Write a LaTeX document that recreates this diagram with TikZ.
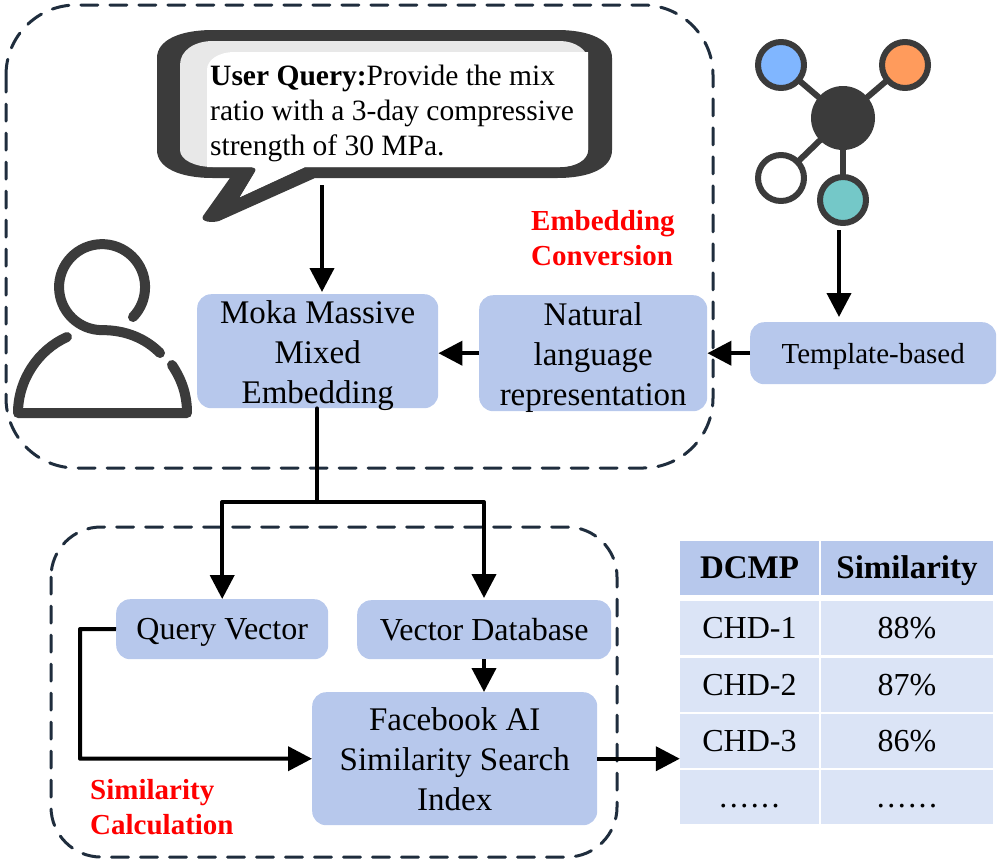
\documentclass[tikz,border=0pt]{standalone}
\usepackage{fontspec}
\setmainfont{Liberation Serif}
\usetikzlibrary{arrows.meta}
\definecolor{boxblue}{HTML}{B7C8EC}
\definecolor{rowblue}{HTML}{DBE4F6}
\definecolor{darkgrey}{HTML}{3B3B3B}
\definecolor{dashnavy}{HTML}{1F2D3D}
\newcommand{\sixdots}{.\kern2.5pt.\kern2.5pt.\kern2.5pt.\kern2.5pt.\kern2.5pt.}
\newcommand{\toppad}{\rule{0pt}{24pt}}
\tikzset{
	blockbox/.style={fill=boxblue, rounded corners=14pt, align=center, inner sep=0pt, font=\fontsize{#1}{40}\selectfont, anchor=north west},
	blockbox/.default=33,
	linebox/.style={blockbox=#1, text height=27pt, text depth=6pt},
	groupbox/.style={draw=dashnavy, line width=3pt, dash pattern=on 17pt off 12pt},
	flow/.style={-{Triangle[length=24pt,width=24pt]}, line width=4pt, black, line cap=butt},
	flowline/.style={line width=4pt, black},
	atom/.style={circle, draw=darkgrey, line width=6pt, minimum size=46pt, inner sep=0pt},
	rowcell/.style={fill=rowblue, minimum height=54pt, inner sep=0pt, text height=26pt, text depth=6pt, font=\fontsize{32}{34}\selectfont},
	headcell/.style={fill=boxblue, minimum height=54pt, inner sep=0pt, text height=26pt, text depth=6pt, font=\fontsize{33}{34}\selectfont\bfseries},
	redtag/.style={text=red, align=left, anchor=west, inner sep=0pt, font=\fontsize{29}{35}\selectfont\bfseries}
}
\begin{document}
\begin{tikzpicture}[x=1pt, y=-1pt, line join=round, line cap=round]
	\useasboundingbox (0,0) rectangle (1000,863);
	% dashed groups
	\draw[groupbox, rounded corners=70pt] (6,5) rectangle (713,468);
	\draw[groupbox, rounded corners=50pt] (51,527) rectangle (617,857);
	% speech bubble
	\fill[darkgrey] (157,58) .. controls (157,40) and (180,30) .. (213,30) -- (557,30) .. controls (590,30) and (612,40) .. (612,58) -- (612,150) .. controls (612,168) and (590,178) .. (557,178) -- (315,178) -- (219,221) .. controls (212,223) and (200,222) .. (203,216) -- (230,178) -- (213,178) .. controls (180,178) and (157,168) .. (157,150) -- cycle;
	\fill[black!9] (180,65) .. controls (180,50) and (195,41) .. (213,41) -- (560,41) .. controls (575,41) and (588,50) .. (588,60) -- (588,150) .. controls (588,160) and (575,167) .. (560,167) -- (305,167) -- (240,197) -- (255,172) .. controls (257,169) and (255,167) .. (250,167) -- (213,167) .. controls (195,167) and (180,160) .. (180,150) -- cycle;
	\fill[white] (207,70) .. controls (207,60) and (218,52) .. (235,52) -- (588,52) -- (588,150) .. controls (588,160) and (575,167) .. (560,167) -- (305,167) -- (240,197) -- (255,172) .. controls (257,169) and (255,167) .. (250,167) -- (207,167) -- cycle;
	\node[anchor=north west, align=left, inner sep=0pt, font=\fontsize{29.5}{35}\selectfont] (query) at (210,65) {\textbf{User Query:}Provide the mix\\ratio with a 3-day compressive\\strength of 30 MPa.};
	% person
	\draw[darkgrey, line width=10pt] (133,317) arc[start angle=44, end angle=-270, radius=43] .. controls (125,330) and (145,338) .. (160,353);
	\draw[darkgrey, line width=10pt] (67,337) .. controls (38,350) and (18,380) .. (18,413) -- (187,413) .. controls (187,395) and (182,380) .. (172,365);
	% molecule
	\node[circle, fill=darkgrey, minimum size=64pt, inner sep=0pt] (hub) at (843,118) {};
	\foreach \a/\px/\py/\c in {white/781/178/white,teal/843/200/{rgb,255:red,116;green,200;blue,200},sky/781/65/{rgb,255:red,128;green,182;blue,255},orange/905/65/{rgb,255:red,255;green,155;blue,92}}{
		\draw[darkgrey, line width=6pt] (hub.center) -- (\px,\py);
		\node[atom, fill={\c}] (\a) at (\px,\py) {};
	}
	% blocks
	\node[blockbox, minimum width=241pt, minimum height=114pt] (moka) at (197,294) {\toppad Moka Massive\\Mixed\\\smash{Embedding}};
	\node[blockbox, minimum width=228pt, minimum height=116pt] (natural) at (479,295) {\toppad Natural\\language\\\smash{representation}};
	\node[linebox=29, minimum width=246pt, minimum height=62pt] (template) at (750,322) {Template-based};
	\node[linebox=32, minimum width=212pt, minimum height=60pt] (qvec) at (116,599) {Query Vector};
	\node[linebox=32, minimum width=254pt, minimum height=59pt] (vecdb) at (357,600) {Vector Database};
	\node[blockbox, minimum width=285pt, minimum height=133pt] (faiss) at (312,692) {Facebook AI\\Similarity Search\\Index};
	% red labels
	\node[redtag] (embed) at (531,238) {Embedding\\Conversion};
	\node[redtag] (simil) at (90,807) {Similarity\\Calculation};
	% table
	\node[headcell, minimum width=139pt] (h1) at (749.5,568) {DCMP};
	\node[headcell, minimum width=172pt] (h2) at (907,568) {Similarity};
	\foreach \y/\n/\a/\b in {628/1/CHD-1/88\%, 685/2/CHD-2/87\%, 741/3/CHD-3/86\%, 797/4/\sixdots/\sixdots}{
		\node[rowcell, minimum width=139pt] (c\n) at (749.5,\y) {\a};
		\node[rowcell, minimum width=172pt] (d\n) at (907,\y) {\b};
	}
	% connectors
	\coordinate (qtop) at (322,185);
	\coordinate (split) at (317,502);
	\coordinate (molend) at (839,230);
	\coordinate (dbtip) at (484,598);
	\draw[flow] (qtop) -- (322,292);
	\draw[flow] (molend) -- (839,317);
	\draw[flow] (template.west) -- (natural.east |- template.west);
	\draw[flow] (natural.west) -- (moka.east |- natural.west);
	\draw[flowline] (moka.south -| split) -- (split);
	\draw[flow] (split) -| (qvec.north);
	\draw[flow] (split) -| (dbtip);
	\draw[flow] (vecdb.south -| dbtip) -- (faiss.north -| dbtip);
	\draw[flow] (qvec.west) -- (80,629) |- (faiss.west);
	\draw[flow] (faiss.east) -- (c3.west |- faiss.east);
\end{tikzpicture}
\end{document}
